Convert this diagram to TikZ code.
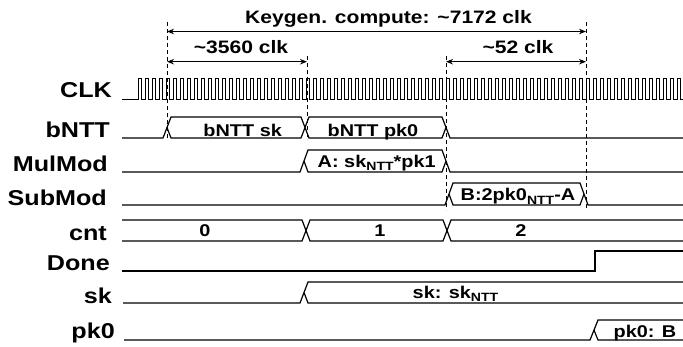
\documentclass[tikz,border=0pt]{standalone}
\usepackage{fontspec}
\setmainfont{Liberation Sans}
\newfontfamily\stretchfont{Liberation Sans}[FakeStretch=1.17]
\usetikzlibrary{arrows.meta}
\newcommand{\subntt}{\raisebox{-3.5pt}{\fontsize{12}{12}\selectfont NTT}}
\begin{document}
\begin{tikzpicture}[x=1pt,y=-1pt,
  sig/.style={line width=1.2pt, line join=miter},
  clkline/.style={line width=0.9pt},
  guide/.style={line width=0.9pt, dash pattern=on 4pt off 3pt},
  dimarrow/.style={line width=1.1pt, {Stealth[length=7pt,width=5.5pt]}-{Stealth[length=7pt,width=5.5pt]}},
  lbl/.style={font=\stretchfont\bfseries\fontsize{21.5}{22}\selectfont, anchor=base east, inner sep=0pt},
  bustxt/.style={font=\stretchfont\bfseries\fontsize{17}{18}\selectfont, anchor=base, inner sep=0pt},
  dimtxt/.style={font=\stretchfont\bfseries\fontsize{18}{19}\selectfont, anchor=base, inner sep=0pt}]
\useasboundingbox (0,0) rectangle (683,346);

% guide coordinates
\coordinate (g1t) at (167,22);  \coordinate (g1b) at (167,140);
\coordinate (g2t) at (307,56);  \coordinate (g2b) at (307,140);
\coordinate (g3t) at (446,56);  \coordinate (g3b) at (446,210);
\coordinate (g4t) at (586,22);  \coordinate (g4b) at (586,210);
\coordinate (a1l) at (167,31.5); \coordinate (a1r) at (586,31.5);
\coordinate (a2l) at (167,61.7); \coordinate (a2r) at (307,61.7);
\coordinate (a3l) at (446,61.7); \coordinate (a3r) at (586,61.7);

% dashed guides
\draw[guide] (g1t) -- (g1b);
\draw[guide] (g2t) -- (g2b);
\draw[guide] (g3t) -- (g3b);
\draw[guide] (g4t) -- (g4b);

% dimension arrows
\draw[dimarrow] (a1l) -- (a1r);
\draw[dimarrow] (a2l) -- (a2r);
\draw[dimarrow] (a3l) -- (a3r);
\node[dimtxt] (tkeygen) at (388.5,23.3) {Keygen. compute: \textasciitilde 7172 clk};
\node[dimtxt] (t3560) at (241,53.3) {\textasciitilde 3560 clk};
\node[dimtxt] (t52) at (518,53) {\textasciitilde 52 clk};

% row labels
\node[lbl] (lclk) at (112,97) {CLK};
\node[lbl] (lbntt) at (110,137) {bNTT};
\node[lbl] (lmul) at (108,171) {MulMod};
\node[lbl] (lsub) at (107,205) {SubMod};
\node[lbl] (lcnt) at (107,240.5) {cnt};
\node[lbl] (ldone) at (110,270) {Done};
\node[lbl] (lsk) at (112,303) {sk};
\node[lbl] (lpk) at (115,338.5) {pk0};

% CLK
\draw[clkline] (122,99) -- (138,99)
  \foreach \i in {0,...,77}{ -- ++(0,-21) -- ++(3.5,0) -- ++(0,21) -- ++(3.5,0)};

% bNTT
\draw[sig] (122,138) -- (163,138) -- (171,117) -- (301,117) -- (309,138) -- (442,138) -- (446,127.5);
\draw[sig] (167,127.5) -- (171,138) -- (301,138) -- (309,117) -- (442,117) -- (450,138) -- (683,138);
\node[bustxt] (tbsk) at (242.7,136) {bNTT sk};
\node[bustxt] (tbpk) at (373,136) {bNTT pk0};

% MulMod
\draw[sig] (122,172) -- (300,172) -- (308,150) -- (442,150) -- (450,172) -- (683,172);
\draw[sig] (304,161) -- (308,172) -- (442,172) -- (446,161);
\node[bustxt] (tmul) at (376.7,167) {A: sk\subntt*pk1};

% SubMod
\draw[sig] (122,205) -- (445,205) -- (453,183) -- (580,183) -- (588,205) -- (683,205);
\draw[sig] (449,194) -- (453,205) -- (580,205) -- (584,194);
\node[bustxt] (tsub) at (518,200.5) {B:2pk0\subntt-A};

% cnt
\draw[sig] (122,220) -- (302,220) -- (310,241) -- (443,241) -- (451,220) -- (683,220);
\draw[sig] (122,241) -- (302,241) -- (310,220) -- (443,220) -- (451,241) -- (683,241);
\node[bustxt] (tc0) at (205,236.7) {0};
\node[bustxt] (tc1) at (380,236.7) {1};
\node[bustxt] (tc2) at (521,236.7) {2};

% Done
\draw[sig] (122,271) -- (595,271) -- (595,251) -- (683,251);

% sk
\draw[sig] (123,303) -- (300,303) -- (308,282) -- (683,282);
\draw[sig] (304,292.5) -- (308,303) -- (683,303);
\node[bustxt] (tsk) at (455.5,298.3) {sk: sk\subntt};

% pk0
\draw[sig] (124,340) -- (590,340) -- (598,320) -- (683,320);
\draw[sig] (594,330) -- (598,340) -- (683,340);
\node[bustxt] (tpk) at (645,337) {pk0: B};
\end{tikzpicture}
\end{document}
